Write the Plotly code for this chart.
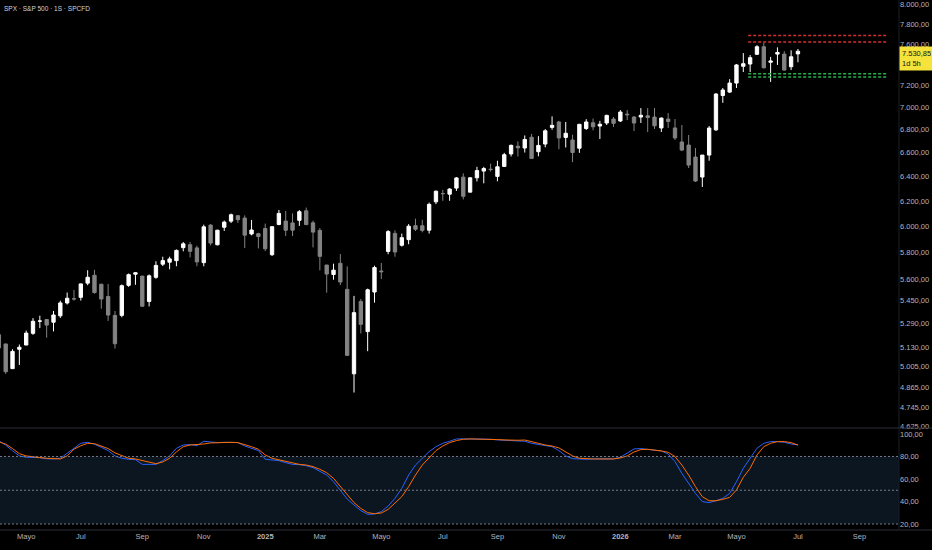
import numpy as np
import pandas as pd
import plotly.graph_objects as go

# Weekly bars, SPX (1S), from the week of 8 Apr 2024
weeks = pd.date_range("2024-04-08", periods=118, freq="7D")
prev_close_before_first = 5204.3

opens = [
    5211.6, 5149.7, 4987.3, 5114.1, 5142.4, 5221.1, 5305.4, 5315.9, 5297.2, 5341.2,
    5431.1, 5459.6, 5471.1, 5572.8, 5630.0, 5565.3, 5476.6, 5151.1, 5344.4, 5557.2,
    5637.8, 5623.9, 5442.1, 5615.2, 5711.9, 5726.5, 5737.8, 5835.6, 5857.8, 5833.9,
    5723.2, 6008.9, 5857.6, 5992.3, 6040.1, 6083.0, 6063.8, 5940.2, 5920.7, 5982.8,
    5782.3, 6014.1, 5969.0, 5969.7, 6046.4, 6121.6, 6026.7, 5968.3, 5705.4, 5635.6,
    5718.1, 5527.9, 4953.8, 5442.0, 5232.9, 5508.9, 5655.3, 5807.1, 5944.7, 5854.1,
    5896.7, 6004.6, 6004.0, 5969.7, 6193.4, 6260.0, 6255.2, 6304.7, 6395.2, 6271.7,
    6389.7, 6445.7, 6457.7, 6401.5, 6485.0, 6590.9, 6656.9, 6641.8, 6735.0, 6610.0,
    6676.0, 6822.0, 6870.0, 6770.0, 6711.0, 6640.0, 6812.0, 6863.0, 6850.0, 6861.0,
    6896.0, 6879.0, 6940.0, 6914.0, 6914.0, 6925.0, 6914.0, 6817.0, 6896.0, 6817.0,
    6694.0, 6667.0, 6564.0, 6396.0, 6581.0, 6800.0, 7110.0, 7142.0, 7226.0, 7385.0,
    7407.0, 7501.0, 7575.0, 7424.0, 7503.0, 7503.0, 7381.0, 7505.0,
]
highs = [
    5263.5, 5151.0, 5114.6, 5146.1, 5239.7, 5325.5, 5341.9, 5315.9, 5375.1, 5447.2,
    5505.5, 5523.6, 5570.3, 5666.9, 5669.7, 5566.0, 5566.2, 5375.0, 5563.4, 5643.2,
    5651.6, 5623.9, 5636.3, 5733.6, 5767.4, 5767.4, 5822.1, 5878.5, 5878.2, 5850.9,
    6012.5, 6017.3, 5972.9, 6044.2, 6100.0, 6085.2, 6085.2, 6049.8, 5949.3, 6021.0,
    5998.5, 6128.2, 6120.9, 6101.3, 6127.5, 6147.4, 6043.6, 5986.1, 5705.4, 5715.3,
    5787.0, 5695.3, 5481.3, 5459.5, 5533.2, 5700.7, 5720.1, 5969.9, 5968.6, 5943.1,
    6016.9, 6059.4, 6050.8, 6187.7, 6284.7, 6290.2, 6304.2, 6395.8, 6427.0, 6395.2,
    6481.3, 6481.3, 6508.2, 6532.7, 6600.2, 6671.8, 6699.5, 6750.9, 6764.6, 6744.6,
    6807.1, 6920.3, 6880.0, 6870.0, 6757.0, 6853.0, 6895.0, 6901.0, 6880.0, 6935.0,
    6915.0, 6977.0, 6977.0, 6923.0, 6995.0, 6995.0, 6995.0, 6910.0, 6950.0, 6896.0,
    6843.0, 6755.0, 6641.0, 6581.0, 6834.0, 7133.0, 7180.0, 7263.0, 7407.0, 7513.0,
    7494.0, 7590.0, 7614.0, 7476.0, 7569.0, 7532.0, 7540.0, 7553.0,
]
lows = [
    5107.9, 4953.6, 4987.3, 5011.3, 5142.4, 5211.1, 5256.9, 5191.7, 5234.3, 5327.2,
    5420.5, 5447.9, 5448.0, 5557.6, 5497.0, 5391.0, 5306.0, 5119.3, 5331.0, 5546.0,
    5561.0, 5402.6, 5407.0, 5604.5, 5697.9, 5674.0, 5696.3, 5807.8, 5762.4, 5696.5,
    5696.4, 5853.0, 5853.0, 5963.9, 6025.0, 6026.2, 5832.3, 5929.6, 5829.5, 5809.9,
    5773.3, 6007.6, 5923.9, 5923.9, 6003.0, 6008.6, 5837.7, 5666.3, 5504.7, 5597.8,
    5558.8, 5069.9, 4835.0, 5220.8, 5101.6, 5433.2, 5602.6, 5786.1, 5767.4, 5843.7,
    5861.4, 5963.2, 5952.6, 5943.2, 6175.0, 6201.6, 6201.6, 6281.7, 6212.7, 6271.7,
    6359.2, 6343.9, 6441.8, 6360.6, 6485.0, 6569.2, 6569.2, 6602.8, 6550.8, 6570.4,
    6647.6, 6801.0, 6631.0, 6646.0, 6521.0, 6600.0, 6799.0, 6796.0, 6720.0, 6843.0,
    6826.0, 6870.0, 6887.0, 6790.0, 6861.0, 6781.0, 6808.0, 6781.0, 6817.0, 6711.0,
    6615.0, 6471.0, 6355.0, 6314.0, 6533.0, 6790.0, 7043.0, 7133.0, 7180.0, 7330.0,
    7330.0, 7494.0, 7364.0, 7237.0, 7398.0, 7343.0, 7349.0, 7424.0,
]
closes = [
    5123.4, 4967.2, 5100.0, 5127.8, 5222.7, 5303.3, 5304.7, 5277.5, 5347.0, 5431.6,
    5464.6, 5460.5, 5567.2, 5615.4, 5505.0, 5459.1, 5346.6, 5344.2, 5554.3, 5634.6,
    5648.4, 5408.4, 5626.0, 5702.6, 5738.2, 5751.1, 5815.0, 5864.7, 5808.1, 5728.8,
    5995.5, 5870.6, 5969.3, 6032.4, 6090.3, 6051.1, 5930.9, 5970.8, 5942.5, 5827.0,
    5996.7, 6101.2, 6040.5, 6026.0, 6114.6, 6013.1, 5954.5, 5770.2, 5638.9, 5667.6,
    5580.9, 5074.1, 5363.4, 5282.7, 5525.2, 5686.7, 5659.9, 5958.4, 5802.8, 5911.7,
    6000.4, 5977.0, 5967.8, 6173.1, 6279.4, 6259.8, 6296.8, 6388.6, 6238.0, 6389.5,
    6449.8, 6466.9, 6460.3, 6481.5, 6584.3, 6664.4, 6643.7, 6715.8, 6552.5, 6664.0,
    6791.7, 6840.2, 6729.0, 6734.0, 6603.0, 6849.0, 6870.0, 6827.0, 6834.0, 6929.0,
    6858.0, 6959.0, 6935.0, 6861.0, 6930.0, 6910.0, 6836.0, 6905.0, 6875.0, 6729.0,
    6624.0, 6496.0, 6363.0, 6581.0, 6816.0, 7124.0, 7161.0, 7226.0, 7398.0, 7410.0,
    7468.0, 7575.0, 7371.0, 7436.0, 7519.0, 7349.0, 7477.0, 7530.85,
]

# Stochastic RSI (%K blue, %D orange)
stoch_k = [
    94, 90, 85, 80.5, 79.3, 79.3, 79, 78, 77.8, 78.4,
    82.8, 88, 91.7, 92.6, 90.8, 88.2, 85.2, 80.5, 78.4, 77.5,
    77.2, 73, 72.7, 73, 76.3, 80.5, 87.3, 90.2, 90.5, 89.6,
    93.5, 92.9, 92.3, 92.6, 92.6, 92.3, 89.3, 87.3, 85.2, 77.5,
    76.9, 76.3, 74.5, 73, 72.7, 71.8, 70.1, 66.5, 63.5, 57.6,
    49.6, 42.2, 36.9, 31.9, 28.6, 28.9, 31, 36, 42.8, 51.7,
    63.5, 72.4, 78.4, 84.3, 88.7, 91.7, 93.5, 95.6, 95.6, 95.6,
    95.6, 95.6, 95.3, 94.7, 94.4, 94.1, 94.1, 93.5, 91.7, 90.5,
    89.9, 88.7, 85.2, 80.5, 78.1, 77.5, 77.5, 77.8, 77.8, 77.8,
    77.8, 79.3, 82.8, 86.7, 87, 86.4, 85.8, 84.9, 82.2, 75.4,
    65, 55.6, 47.2, 39.9, 39, 40.7, 42.8, 47.2, 57.6, 69.5,
    78.4, 87.3, 91.7, 93.2, 93.2, 92.6, 91.1, 90.2,
]
stoch_d = [
    93, 91, 87, 82.5, 80.5, 79.5, 79, 78.4, 77.8, 77.8,
    80.5, 86.5, 89.5, 91.7, 91.4, 89.4, 87, 83.2, 80.5, 78.4,
    77.8, 76.3, 74.5, 73.6, 75.1, 78.4, 84, 88.7, 90.2, 90.5,
    91.1, 92, 92.3, 92.6, 92.6, 92.3, 90.8, 88.7, 86.4, 81.3,
    78.4, 76.9, 75.4, 74.2, 73, 72.4, 71, 68.6, 65.6, 60.6,
    53.2, 45.5, 39, 33.9, 30.1, 29.2, 29.8, 33, 38.3, 44.3,
    53.2, 63.5, 72.4, 79.3, 85.2, 89.3, 92.3, 94.1, 95.3, 95.6,
    95.6, 95.6, 95.3, 95, 94.7, 94.4, 94.4, 94.6, 92.9, 91.7,
    90.2, 89.3, 87.6, 84, 80.5, 78.4, 77.8, 77.8, 77.8, 77.5,
    77.8, 78.7, 80.5, 84, 86.1, 86.4, 85.8, 84.9, 83.7, 79.9,
    72.4, 63.5, 53.2, 44.3, 40.7, 40.7, 41.9, 43.7, 50.2, 61.5,
    69.5, 81.3, 88.7, 91.7, 93.2, 93.2, 92.3, 90.2,
]

# Drawn zones (price levels) and their span
resistance_levels = [7686, 7622]
support_levels = [7314, 7283]
zone_span = ["2026-05-16", "2026-10-05"]

# Axis ticks (7.400 sits under the last-price label, so it is not shown)
price_ticks = [8000, 7800, 7600, 7200, 7000, 6800, 6600, 6400, 6200, 6000,
               5800, 5600, 5450, 5290, 5130, 5005, 4865, 4745, 4625]
stoch_ticks = [100, 80, 60, 40, 20]
month_ticks = ["2024-05-06", "2024-07-01", "2024-09-02", "2024-11-04", "2025-01-06",
               "2025-03-03", "2025-05-05", "2025-07-07", "2025-09-01", "2025-11-03",
               "2026-01-05", "2026-03-02", "2026-05-04", "2026-07-06", "2026-09-07"]
month_labels = ["Mayo", "Jul", "Sep", "Nov", "<b>2025</b>", "Mar", "Mayo", "Jul",
                "Sep", "Nov", "<b>2026</b>", "Mar", "Mayo", "Jul", "Sep"]


def es_num(v):
    s = f"{v:,.2f}"
    return s.replace(",", "X").replace(".", ",").replace("X", ".")


AXIS_TXT = "#b2b5be"
FONT = "Liberation Sans"

# colour bars by close vs previous close
prev = [prev_close_before_first] + closes[:-1]
df = pd.DataFrame(dict(x=weeks, o=opens, h=highs, l=lows, c=closes, p=prev))
df["up"] = df["c"] >= df["p"]

fig = go.Figure()

for flag, col in [(True, "#ffffff"), (False, "#838383")]:
    d = df[df["up"] == flag]
    fig.add_trace(go.Candlestick(
        x=d["x"], open=d["o"], high=d["h"], low=d["l"], close=d["c"],
        increasing=dict(line=dict(color=col, width=1), fillcolor=col),
        decreasing=dict(line=dict(color=col, width=1), fillcolor=col),
        whiskerwidth=0, showlegend=False, hoverinfo="skip",
        xaxis="x", yaxis="y"))

for lvl in resistance_levels:
    fig.add_trace(go.Scatter(x=zone_span, y=[lvl, lvl], mode="lines",
                             line=dict(color="#d32f2f", width=1.5, dash="3px,2px"),
                             showlegend=False, hoverinfo="skip", xaxis="x", yaxis="y"))
for lvl in support_levels:
    fig.add_trace(go.Scatter(x=zone_span, y=[lvl, lvl], mode="lines",
                             line=dict(color="#22b24c", width=1.5, dash="3px,2px"),
                             showlegend=False, hoverinfo="skip", xaxis="x", yaxis="y"))

fig.add_trace(go.Scatter(x=weeks, y=stoch_k, mode="lines",
                         line=dict(color="#2962ff", width=1),
                         showlegend=False, hoverinfo="skip", xaxis="x2", yaxis="y2"))
fig.add_trace(go.Scatter(x=weeks, y=stoch_d, mode="lines",
                         line=dict(color="#ff6d00", width=1),
                         showlegend=False, hoverinfo="skip", xaxis="x2", yaxis="y2"))

# stoch band + dashed levels
fig.add_shape(type="rect", xref="x2 domain", yref="y2", x0=0, x1=1, y0=20, y1=80,
              fillcolor="#0b1620", line_width=0, layer="below")
for lv in [80, 50, 20]:
    fig.add_shape(type="line", xref="x2 domain", yref="y2", x0=0, x1=1, y0=lv, y1=lv,
                  line=dict(color="#787b86", width=1, dash="2px,2px"))

# pane separators
pane_split = 102 / 530
for yy in [pane_split, 0]:
    fig.add_shape(type="line", xref="paper", yref="paper", x0=0, x1=1.04, y0=yy, y1=yy,
                  line=dict(color="#2a2e39", width=1))
fig.add_shape(type="line", xref="paper", yref="paper", x0=1, x1=1, y0=0, y1=1,
              line=dict(color="#1c1f26", width=1))

fig.add_annotation(text="SPX · S&P 500 · 1S · SPCFD", xref="paper", yref="paper",
                   x=0, y=1, xanchor="left", yanchor="top", xshift=2, yshift=-3,
                   showarrow=False, font=dict(size=6.5, color="#d1d4dc", family=FONT))

last = closes[-1]
fig.add_annotation(text=es_num(last) + "<br>1d 5h", xref="paper", yref="y",
                   x=1, y=np.log10(last), xanchor="left", yanchor="top", yshift=5.5,
                   showarrow=False, align="left", bgcolor="#f5e23a", borderpad=2,
                   width=29, font=dict(size=7.5, color="#131722", family=FONT))

x_range = ["2024-04-09 04:00", "2026-10-17 14:00"]

fig.update_layout(
    width=932, height=550,
    margin=dict(l=0, r=33, t=0, b=20),
    paper_bgcolor="#000000", plot_bgcolor="#000000",
    font=dict(family=FONT, color=AXIS_TXT, size=7.5),
    showlegend=False,
    xaxis=dict(domain=[0, 1], anchor="y", type="date", range=x_range,
               showticklabels=False, showgrid=False, zeroline=False,
               rangeslider=dict(visible=False)),
    xaxis2=dict(domain=[0, 1], anchor="y2", type="date", range=x_range, matches="x",
                tickvals=month_ticks, ticktext=month_labels, ticks="",
                tickfont=dict(size=7.5, color=AXIS_TXT), showgrid=False, zeroline=False),
    yaxis=dict(domain=[pane_split, 1], anchor="x", type="log", side="right",
               range=[np.log10(4617.3), np.log10(8049)],
               tickvals=price_ticks, ticktext=[es_num(v) for v in price_ticks],
               tickfont=dict(size=7.5, color=AXIS_TXT), ticks="",
               showgrid=False, zeroline=False),
    yaxis2=dict(domain=[0, 101 / 530], anchor="x2", side="right", range=[14.7, 104.4],
                tickvals=stoch_ticks, ticktext=[es_num(v) for v in stoch_ticks],
                tickfont=dict(size=7.5, color=AXIS_TXT), ticks="",
                showgrid=False, zeroline=False),
)

fig.write_html("out.html", config={"displayModeBar": False},
               post_script="document.body.style.margin='0';"
                           "document.body.style.background='#000';"
                           "document.body.style.overflow='hidden';")
